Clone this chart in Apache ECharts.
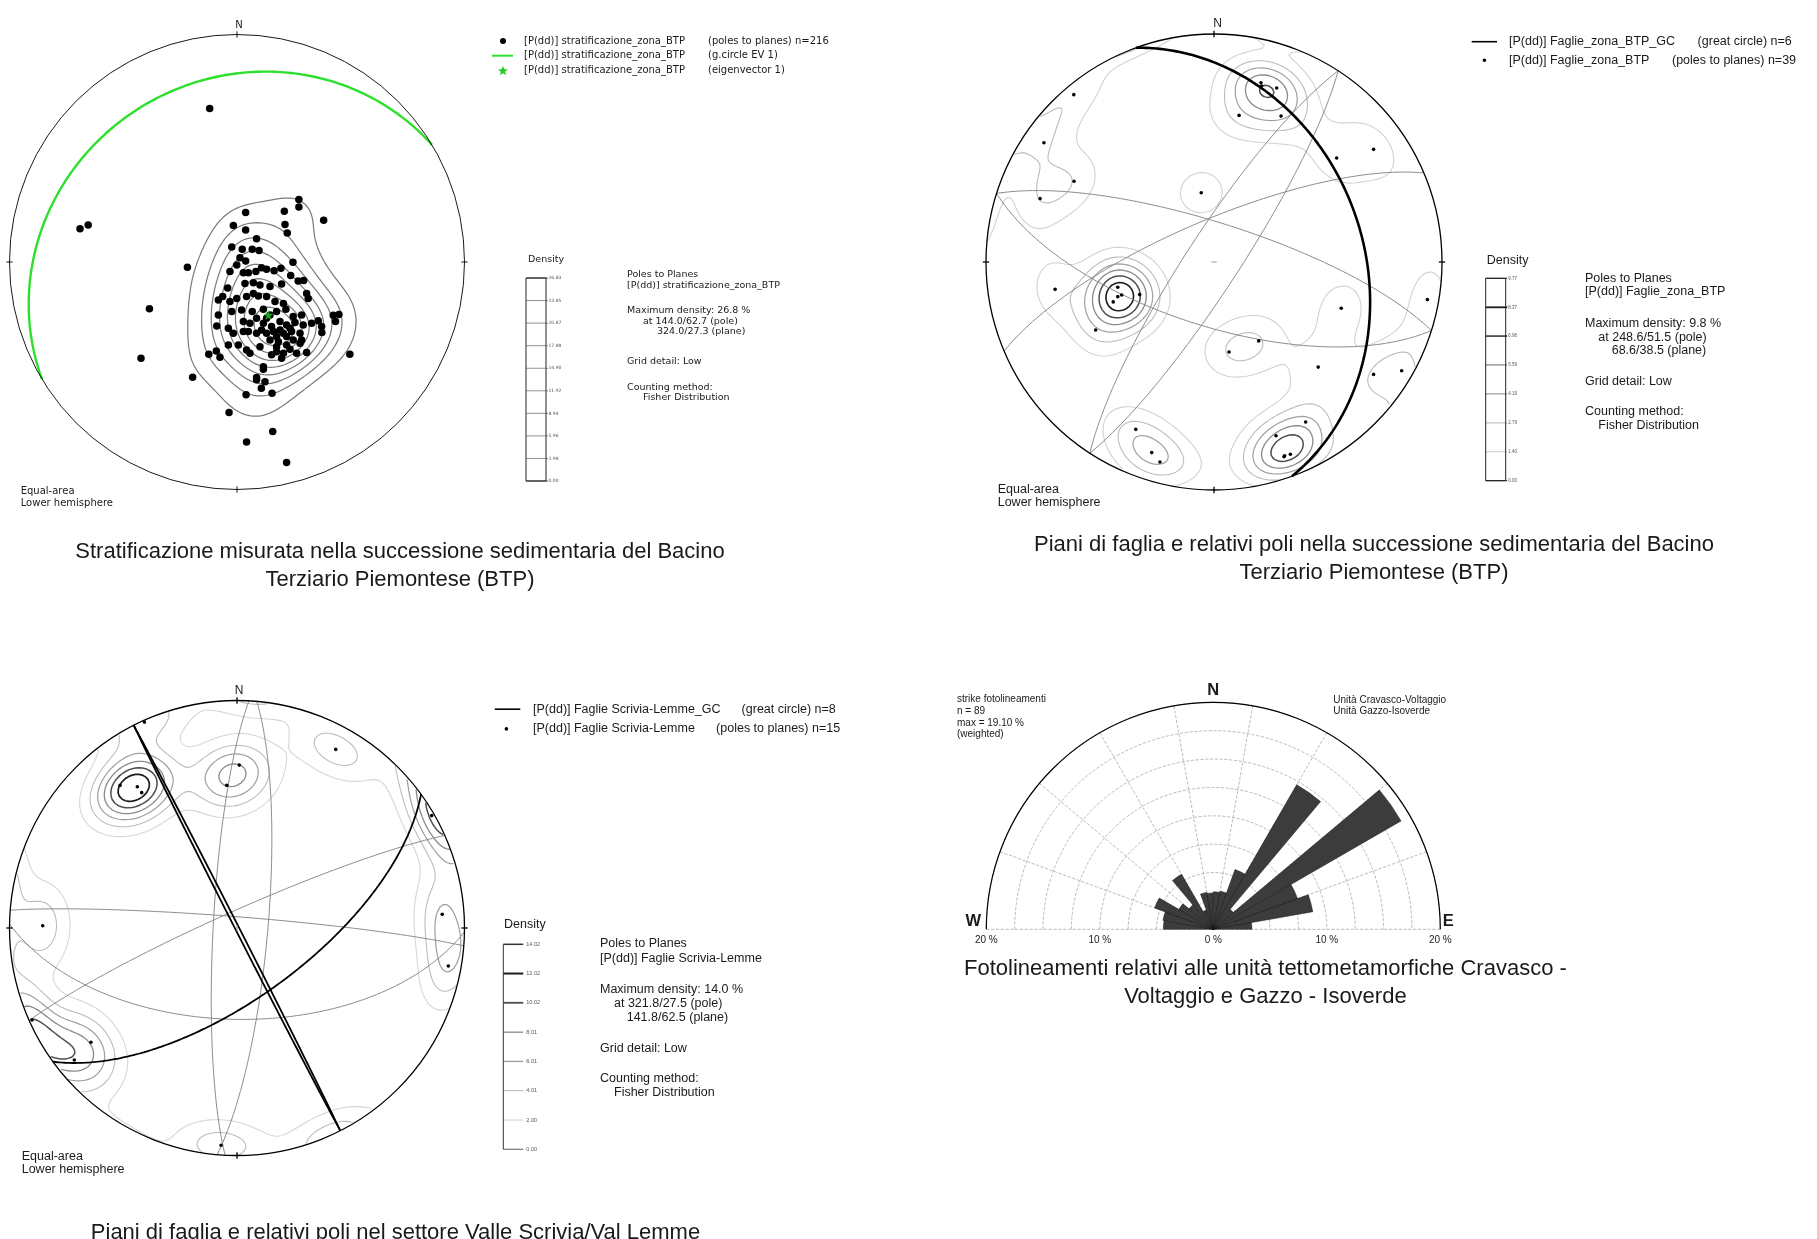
<!DOCTYPE html>
<html><head><meta charset="utf-8"><title>Stereonets</title>
<script src="https://cdn.jsdelivr.net/npm/echarts@6.0.0/dist/echarts.min.js"></script>
<style>html,body{margin:0;padding:0;background:#fff;}#chart{width:1817px;height:1239px;}</style>
</head><body><div id="chart"></div><script>
// ================= DATA =================
// Poles: equal-area projected coordinates (x = East, y = North, primitive radius = 1)
const polesBTP = [
 [-0.12,0.675],[-0.69,0.146],[-0.654,0.163],[0.038,0.218],[0.208,0.223],[0.272,0.275],[0.272,0.242],[0.381,0.184],
 [0.211,0.165],[0.221,0.127],[-0.016,0.16],[0.038,0.141],[-0.218,-0.023],[-0.385,-0.205],[-0.422,-0.423],[-0.195,-0.507],
 [0.496,-0.406],[0.448,-0.231],[0.433,-0.261],[0.423,-0.234],[0.04,-0.584],[0.154,-0.577],[-0.035,-0.662],[0.157,-0.745],
 [0.042,-0.791],[0.218,-0.881],[-0.124,-0.406],[-0.091,-0.391],[-0.075,-0.419],[0.086,-0.518],[0.123,-0.526],[0.107,-0.555],
 [0.116,-0.46],[0.116,-0.471],[0.086,-0.508],
 [0.086,0.102],[-0.023,0.066],[0.023,0.056],[0.067,0.056],[0.097,0.051],[0.013,0.019],[0.038,0.004],[-0.001,-0.013],
 [0.246,-0.001],[-0.031,-0.042],[0.028,-0.047],[0.05,-0.047],[0.083,-0.042],[0.108,-0.025],[0.13,-0.032],[0.163,-0.038],
 [0.193,-0.028],[0.236,-0.059],[0.269,-0.083],[0.293,-0.081],[-0.041,-0.114],[0.035,-0.094],[0.072,-0.091],[0.101,-0.101],
 [0.145,-0.108],[0.196,-0.097],[-0.082,-0.167],[-0.063,-0.152],[-0.031,-0.174],[-0.001,-0.16],[0.042,-0.152],[0.072,-0.138],
 [0.094,-0.149],[0.13,-0.152],[0.167,-0.174],[0.204,-0.182],[0.306,-0.138],[0.313,-0.16],[-0.023,-0.218],[0.02,-0.211],
 [0.067,-0.218],[0.116,-0.208],[0.145,-0.233],[0.174,-0.218],[0.215,-0.208],[0.247,-0.24],[0.284,-0.233],[-0.082,-0.233],
 [-0.089,-0.281],[-0.038,-0.291],[-0.016,-0.313],[0.028,-0.262],[0.05,-0.306],[0.086,-0.313],[0.116,-0.269],[0.152,-0.284],
 [0.189,-0.262],[0.218,-0.277],[0.255,-0.266],[0.291,-0.277],[0.328,-0.269],[0.357,-0.258],[0.372,-0.284],[0.373,-0.31],
 [0.277,-0.313],[0.204,-0.313],[0.174,-0.328],[0.145,-0.343],[0.101,-0.372],[0.042,-0.387],[0.006,-0.365],[-0.038,-0.365],
 [0.057,-0.401],[0.174,-0.372],[0.218,-0.365],[0.262,-0.401],[0.306,-0.398],[0.196,-0.423],[0.204,-0.401],[0.233,-0.384],
 [0.277,-0.357],[0.174,-0.394],[0.218,-0.328],[0.24,-0.306],[0.284,-0.343],[0.108,-0.299],[0.13,-0.313],[0.16,-0.306],
 [0.057,-0.269],[0.086,-0.247],[0.028,-0.306],[0.13,-0.247],[0.189,-0.299],[0.233,-0.291],[0.247,-0.343],[0.152,-0.408],
 [0.182,-0.35]
];
const eigenvectorBTP = [[0.138,-0.233]];
const gcEV1BTP = [[329,21]];                 // [dip direction, dip]
const densityLevelsBTP = [0.00,2.98,5.96,8.94,11.92,14.90,17.88,20.87,23.85,26.83];

const polesFaglieBTP = [
 [-0.615,0.734],[-0.746,0.523],[-0.614,0.354],[-0.763,0.278],[-0.056,0.304],[0.206,0.786],[0.209,0.772],[0.275,0.763],
 [0.11,0.643],[0.294,0.64],[0.538,0.456],[0.7,0.494],[-0.697,-0.12],[-0.422,-0.111],[-0.405,-0.145],[-0.422,-0.152],
 [-0.442,-0.175],[-0.326,-0.143],[-0.519,-0.298],[0.196,-0.346],[0.066,-0.395],[0.558,-0.203],[0.936,-0.165],[0.457,-0.461],
 [0.7,-0.493],[0.823,-0.477],[-0.343,-0.734],[-0.273,-0.836],[-0.237,-0.877],[0.272,-0.762],[0.402,-0.702],[0.307,-0.854],
 [0.335,-0.843],[0.31,-0.85]
];
const gcFaglieBTPBold = [[70,35]];
const gcFaglieBTPThin = [[303,80],[123,81],[17.5,76],[197.5,67],[337,75]];
const densityLevelsFaglieBTP = [0.00,1.40,2.79,4.19,5.59,6.98,8.37,9.77];

const polesScrivia = [
 [-0.407,0.905],[0.434,0.785],[0.01,0.716],[-0.045,0.627],[-0.514,0.627],[-0.438,0.621],[-0.419,0.595],[0.856,0.494],
 [-0.854,0.01],[0.902,0.06],[0.929,-0.167],[-0.901,-0.404],[-0.642,-0.502],[-0.715,-0.58],[-0.07,-0.955]
];
const gcScriviaBold = [[63,89.3],[243,89.3],[144,65]];
const gcScriviaThin = [[273,81.5],[95,79],[4.5,86],[181,57],[336,84]];
const densityLevelsScrivia = [0.00,2.00,4.01,6.01,8.01,10.02,12.02,14.02];

const roseBins = ['270-280','280-290','290-300','300-310','310-320','320-330','330-340','340-350','350-360',
                  '0-10','10-20','20-30','30-40','40-50','50-60','60-70','70-80','80-90'];
const roseValues = [4.4,4.5,5.5,3.5,2.8,5.6,1.8,3.3,3.2, 3.3,3.4,5.6,14.7,2.3,19.1,7.9,8.9,3.4];
const roseScaleTicks = [-20,-10,0,10,20];
const cardinalTicks = [0,90,180,270];

// ================= HELPERS =================
const D2R = Math.PI/180;
function gcPoints(dd, dip){
  const s=(dd-90)*D2R, d=dd*D2R, p=dip*D2R;
  const sv=[Math.sin(s),Math.cos(s),0], dv=[Math.cos(p)*Math.sin(d),Math.cos(p)*Math.cos(d),Math.sin(p)];
  const out=[];
  for(let i=0;i<=180;i++){const f=i*D2R,cf=Math.cos(f),sf=Math.sin(f);
    const E=cf*sv[0]+sf*dv[0], N=cf*sv[1]+sf*dv[1], Dn=sf*dv[2]; const q=Math.sqrt(1+Dn); out.push([E/q,N/q]);}
  return out;
}
function densityGrid(poles,k,N,ext){
  const vecs=poles.map(([x,y])=>{const r2=x*x+y*y;const s=Math.sqrt(Math.max(0,2-r2));return [x*s,y*s,1-r2];});
  const xs=[];for(let i=0;i<N;i++)xs.push(-ext+2*ext*i/(N-1));
  const g=[];let mx=0;
  for(let j=0;j<N;j++){const row=new Float64Array(N);const y=xs[j];
    for(let i=0;i<N;i++){const x=xs[i];const r2=x*x+y*y;if(r2>=2){row[i]=0;continue;}
      const s=Math.sqrt(2-r2),gx=x*s,gy=y*s,gz=1-r2;let sum=0;
      for(const v of vecs){const c=Math.abs(gx*v[0]+gy*v[1]+gz*v[2]);sum+=Math.exp(k*(c-1));}
      row[i]=sum;if(r2<=1&&sum>mx)mx=sum;}
    g.push(row);}
  return {xs,g,mx};
}
function contourLines(G,level){
  const {xs,g}=G;const N=xs.length;const pts=new Map();const segs=[];
  function ip(key,xa,ya,va,xb,yb,vb){if(!pts.has(key)){const t=(level-va)/(vb-va);pts.set(key,[xa+t*(xb-xa),ya+t*(yb-ya)]);}return key;}
  for(let j=0;j<N-1;j++)for(let i=0;i<N-1;i++){
    const v00=g[j][i],v10=g[j][i+1],v11=g[j+1][i+1],v01=g[j+1][i];
    let c=0;if(v00>level)c|=1;if(v10>level)c|=2;if(v11>level)c|=4;if(v01>level)c|=8;
    if(c===0||c===15)continue;
    const x0=xs[i],x1=xs[i+1],y0=xs[j],y1=xs[j+1];
    const B=()=>ip(j*N+i,x0,y0,v00,x1,y0,v10);
    const R=()=>ip(N*N+j*N+i+1,x1,y0,v10,x1,y1,v11);
    const T=()=>ip((j+1)*N+i,x0,y1,v01,x1,y1,v11);
    const L=()=>ip(N*N+j*N+i,x0,y0,v00,x0,y1,v01);
    const ctr=(v00+v10+v11+v01)/4;
    switch(c){
      case 1:case 14:segs.push([L(),B()]);break;
      case 2:case 13:segs.push([B(),R()]);break;
      case 3:case 12:segs.push([L(),R()]);break;
      case 4:case 11:segs.push([R(),T()]);break;
      case 6:case 9:segs.push([B(),T()]);break;
      case 7:case 8:segs.push([L(),T()]);break;
      case 5:if(ctr>level){segs.push([B(),R()]);segs.push([L(),T()]);}else{segs.push([L(),B()]);segs.push([R(),T()]);}break;
      case 10:if(ctr>level){segs.push([L(),B()]);segs.push([R(),T()]);}else{segs.push([B(),R()]);segs.push([L(),T()]);}break;
    }
  }
  const adj=new Map();segs.forEach((s,idx)=>{for(const kk of s){if(!adj.has(kk))adj.set(kk,[]);adj.get(kk).push(idx);}});
  const used=new Uint8Array(segs.length);const lines=[];
  for(let s0=0;s0<segs.length;s0++){if(used[s0])continue;used[s0]=1;
    const fw=[segs[s0][1]],bw=[];let cur=segs[s0][1];
    while(true){const nb=adj.get(cur).find(id=>!used[id]);if(nb===undefined)break;used[nb]=1;const s=segs[nb];cur=s[0]===cur?s[1]:s[0];fw.push(cur);}
    cur=segs[s0][0];bw.push(cur);
    while(true){const nb=adj.get(cur).find(id=>!used[id]);if(nb===undefined)break;used[nb]=1;const s=segs[nb];cur=s[0]===cur?s[1]:s[0];bw.push(cur);}
    const chain=bw.reverse().concat(fw);
    let part=[];
    for(const kk of chain){const p=pts.get(kk);if(p[0]*p[0]+p[1]*p[1]<=1.0)part.push(p);else{if(part.length>1)lines.push(part);part=[];}}
    if(part.length>1)lines.push(part);
  }
  return lines;
}
function makeContours(poles,k,levels,statedMax,colors,widths){
  const G=densityGrid(poles,k,141,1.04);
  return levels.map((L,i)=>({lines:contourLines(G,L*G.mx/statedMax),color:colors[i],width:widths[i]}));
}

// ================= BUILD =================
const FD='DejaVu Sans', FA='Liberation Sans, Arial, sans-serif';
const c1=makeContours(polesBTP,45,densityLevelsBTP.slice(1,-1),26.83,Array(8).fill('#7a7a7a'),Array(8).fill(1.2));
const c2cols=['#d2d2d2','#bcbcbc','#a0a0a0','#8a8a8a','#4e4e4e','#1c1c1c'];
const c3cols=['#d6d6d6','#bdbdbd','#9e9e9e','#8a8a8a','#4e4e4e','#1c1c1c'];
const c2=makeContours(polesFaglieBTP,50,densityLevelsFaglieBTP.slice(1,-1),9.77,c2cols,[1.1,1.1,1.2,1.3,1.5,1.6]);
const c3=makeContours(polesScrivia,45,densityLevelsScrivia.slice(1,-1),14.02,c3cols,[1.1,1.1,1.2,1.3,1.5,1.7]);

function contourSeries(gi,sets){return {type:'custom',xAxisIndex:gi,yAxisIndex:gi,data:[[0,0]],silent:true,z:2,
  renderItem:(p,api)=>{const ch=[];sets.forEach(ls=>ls.lines.forEach(pl=>ch.push({type:'polyline',shape:{points:pl.map(q=>api.coord(q))},style:{stroke:ls.color,lineWidth:ls.width,fill:'none'}})));return {type:'group',children:ch};}};}
function frameSeries(gi,lw,centerMark){return {type:'custom',xAxisIndex:gi,yAxisIndex:gi,data:[[0,0]],silent:true,z:6,
  renderItem:(p,api)=>{const c=api.coord([0,0]);const r=api.coord([1,0])[0]-c[0];
    const ch=[{type:'circle',shape:{cx:c[0],cy:c[1],r:r},style:{fill:'none',stroke:'#000',lineWidth:lw}}];
    cardinalTicks.forEach(a=>{const sa=Math.sin(a*D2R),ca=Math.cos(a*D2R);const p1=api.coord([0.986*sa,0.986*ca]),p2=api.coord([1.014*sa,1.014*ca]);
      ch.push({type:'line',shape:{x1:p1[0],y1:p1[1],x2:p2[0],y2:p2[1]},style:{stroke:'#000',lineWidth:lw}});});
    if(centerMark==='h'){const a=api.coord([-0.012,0]),b=api.coord([0.012,0]);ch.push({type:'line',shape:{x1:a[0],y1:a[1],x2:b[0],y2:b[1]},style:{stroke:'#999',lineWidth:1}});}
    if(centerMark==='v'){const a=api.coord([0,-0.012]),b=api.coord([0,0.012]);ch.push({type:'line',shape:{x1:a[0],y1:a[1],x2:b[0],y2:b[1]},style:{stroke:'#999',lineWidth:1}});}
    return {type:'group',children:ch};}};}
function gcSeries(gi,list,color,width,z){return list.map(([dd,dip])=>({type:'line',xAxisIndex:gi,yAxisIndex:gi,data:gcPoints(dd,dip),
  showSymbol:false,symbol:'none',silent:true,z:z||3,clip:false,lineStyle:{color:color,width:width}}));}
function poleSeries(gi,data,size){return {type:'scatter',xAxisIndex:gi,yAxisIndex:gi,data:data,symbol:'circle',symbolSize:size,silent:true,z:4,itemStyle:{color:'#000',opacity:1}};}
function densityBar(gi,levels,o){return {type:'custom',xAxisIndex:gi,yAxisIndex:gi,data:[[0,0]],silent:true,z:5,
  renderItem:(p,api)=>{const mv=levels[levels.length-1];const tl=api.coord([0,mv]),br=api.coord([1,0]);const ch=[];
    levels.forEach((v,i)=>{const y=api.coord([0,v])[1];
      ch.push({type:'line',shape:{x1:tl[0],y1:y,x2:br[0]+o.ext,y2:y},style:{stroke:o.colors[i],lineWidth:o.widths[i]}});
      ch.push({type:'text',style:{text:v.toFixed(2),x:br[0]+o.gap,y:y,fontSize:o.fs,fontFamily:o.ff,fill:'#555',align:'left',verticalAlign:'middle'}});});
    if(o.box)ch.push({type:'rect',shape:{x:tl[0],y:tl[1],width:br[0]-tl[0],height:br[1]-tl[1]},style:{fill:'none',stroke:'#222',lineWidth:1}});
    else ch.push({type:'line',shape:{x1:tl[0],y1:tl[1],x2:tl[0],y2:br[1]},style:{stroke:'#333',lineWidth:1}});
    return {type:'group',children:ch};}};}

const grids=[
 {left:9.5,top:34.5,width:455,height:455},
 {left:986,top:34,width:456,height:456},
 {left:9.5,top:700.5,width:455,height:455},
 {left:986.3,top:900,width:454,height:29.3},
 {left:526,top:278,width:20,height:203},
 {left:1485.7,top:278.3,width:20,height:202.4},
 {left:503.3,top:944.3,width:20,height:205}
];
const hid={show:false};
const xAxes=[0,1,2].map(i=>({type:'value',gridIndex:i,min:-1,max:1,show:false}));
xAxes.push({type:'value',gridIndex:3,min:roseScaleTicks[0],max:roseScaleTicks[roseScaleTicks.length-1],interval:10,
  axisLine:hid,axisTick:hid,splitLine:hid,axisLabel:{formatter:v=>Math.abs(v)+' %',fontSize:10,fontFamily:FA,color:'#222',margin:6}});
[4,5,6].forEach(i=>xAxes.push({type:'value',gridIndex:i,min:0,max:1,show:false}));
const yAxes=[0,1,2].map(i=>({type:'value',gridIndex:i,min:-1,max:1,show:false}));
yAxes.push({type:'value',gridIndex:3,min:0,max:1,show:false});
yAxes.push({type:'value',gridIndex:4,min:0,max:densityLevelsBTP[densityLevelsBTP.length-1],show:false});
yAxes.push({type:'value',gridIndex:5,min:0,max:densityLevelsFaglieBTP[densityLevelsFaglieBTP.length-1],show:false});
yAxes.push({type:'value',gridIndex:6,min:0,max:densityLevelsScrivia[densityLevelsScrivia.length-1],show:false});

const series=[];
series.push(contourSeries(0,c1),contourSeries(1,c2),contourSeries(2,c3));
series.push(...gcSeries(0,gcEV1BTP,'#2ee02e',2.4));
series.push(...gcSeries(1,gcFaglieBTPThin,'#8a8a8a',1));
series.push(...gcSeries(1,gcFaglieBTPBold,'#000',2.6,3.5));
series.push(...gcSeries(2,gcScriviaThin,'#8a8a8a',1));
series.push(...gcSeries(2,gcScriviaBold,'#000',1.8,3.5));
series.push(poleSeries(0,polesBTP,7.5),poleSeries(1,polesFaglieBTP,3.6),poleSeries(2,polesScrivia,3.6));
series.push({type:'scatter',xAxisIndex:0,yAxisIndex:0,data:eigenvectorBTP,silent:true,z:5,symbolSize:10,
  symbol:'path://M50,0 L61,35 L98,35 L68,57 L79,91 L50,70 L21,91 L32,57 L2,35 L39,35 Z',itemStyle:{color:'#22cc22'}});
series.push(frameSeries(0,0.9,null),frameSeries(1,1.3,'h'),frameSeries(2,1.3,'v'));
series.push(densityBar(4,densityLevelsBTP,{box:true,ext:2,gap:2.5,fs:4.5,ff:FD,colors:['#222','#777','#777','#777','#777','#777','#777','#777','#777','#222'],widths:Array(10).fill(0.8)}));
series.push(densityBar(5,densityLevelsFaglieBTP,{box:true,ext:1.5,gap:2.5,fs:4.5,ff:FA,colors:['#222'].concat(c2cols,['#222']),widths:[1,1.1,1.1,1.3,1.3,1.8,1.8,1]}));
series.push(densityBar(6,densityLevelsScrivia,{box:false,ext:0,gap:3,fs:5.5,ff:FA,colors:['#777'].concat(c3cols,['#333']),widths:[1.2,1.1,1.1,1.3,1.3,1.8,2,1.5]}));
series.push({type:'bar',coordinateSystem:'polar',data:roseValues,barCategoryGap:'0%',silent:true,z:3,
  itemStyle:{color:'#3c3c3c',borderColor:'#111',borderWidth:0.5}});

function T(text,x,y,size,family,extra){return {type:'text',x:x,y:y,silent:true,z:100,
  style:Object.assign({text:text,fontSize:size,fontFamily:family,fill:'#1a1a1a',align:'left',verticalAlign:'middle'},extra||{})};}
const C={align:'center'};
function starPts(cx,cy,R,r){const a=[];for(let i=0;i<10;i++){const ang=-Math.PI/2+i*Math.PI/5;const rr=i%2?r:R;a.push([cx+rr*Math.cos(ang),cy+rr*Math.sin(ang)]);}return a;}
const g=[
 // panel 1
 T('N',239,25,10,FD,C),
 {type:'circle',shape:{cx:503,cy:41,r:3},style:{fill:'#000'},silent:true},
 {type:'line',shape:{x1:492,y1:55.7,x2:513,y2:55.7},style:{stroke:'#2ee02e',lineWidth:2},silent:true},
 {type:'polygon',shape:{points:starPts(503,71,5.2,2.2)},style:{fill:'#22cc22'},silent:true},
 T('[P(dd)] stratificazione_zona_BTP',524,41,10,FD),T('[P(dd)] stratificazione_zona_BTP',524,55.7,10,FD),T('[P(dd)] stratificazione_zona_BTP',524,70.7,10,FD),
 T('(poles to planes) n=216',708,41,10,FD),T('(g.circle EV 1)',708,55.7,10,FD),T('(eigenvector 1)',708,70.7,10,FD),
 T('Density',528,260,9.5,FD),
 T('Poles to Planes',627,275,9.5,FD),T('[P(dd)] stratificazione_zona_BTP',627,285.5,9.5,FD),
 T('Maximum density: 26.8 %',627,311,9.5,FD),T('at 144.0/62.7 (pole)',643,321.5,9.5,FD),T('324.0/27.3 (plane)',657,332,9.5,FD),
 T('Grid detail: Low',627,362,9.5,FD),T('Counting method:',627,387.5,9.5,FD),T('Fisher Distribution',643,398,9.5,FD),
 T('Equal-area',20.7,491.7,10,FD),T('Lower hemisphere',20.7,503.7,10,FD),
 // panel 2
 T('N',1217.7,24,12,FA,C),
 {type:'line',shape:{x1:1471.7,y1:41.7,x2:1497,y2:41.7},style:{stroke:'#000',lineWidth:1.6},silent:true},
 {type:'circle',shape:{cx:1484.4,cy:60.3,r:1.8},style:{fill:'#000'},silent:true},
 T('[P(dd)] Faglie_zona_BTP_GC',1509,41.7,12.5,FA),T('[P(dd)] Faglie_zona_BTP',1509,60.3,12.5,FA),
 T('(great circle) n=6',1697.6,41.7,12.5,FA),T('(poles to planes) n=39',1672,60.3,12.5,FA),
 T('Density',1486.7,260.7,12.5,FA),
 T('Poles to Planes',1585,278.3,12.5,FA),T('[P(dd)] Faglie_zona_BTP',1585,291.7,12.5,FA),
 T('Maximum density: 9.8 %',1585,323.3,12.5,FA),T('at 248.6/51.5 (pole)',1598.3,337.3,12.5,FA),T('68.6/38.5 (plane)',1611.7,351,12.5,FA),
 T('Grid detail: Low',1585,381.7,12.5,FA),T('Counting method:',1585,411.7,12.5,FA),T('Fisher Distribution',1598.3,425.7,12.5,FA),
 T('Equal-area',997.7,490,12.5,FA),T('Lower hemisphere',997.7,502.3,12.5,FA),
 // panel 3
 T('N',239,691,12,FA,C),
 {type:'line',shape:{x1:494.8,y1:709.2,x2:520.3,y2:709.2},style:{stroke:'#000',lineWidth:1.6},silent:true},
 {type:'circle',shape:{cx:506.4,cy:728.9,r:1.8},style:{fill:'#000'},silent:true},
 T('[P(dd)] Faglie Scrivia-Lemme_GC',533,709.2,12.5,FA),T('[P(dd)] Faglie Scrivia-Lemme',533,728.9,12.5,FA),
 T('(great circle) n=8',741.6,709.2,12.5,FA),T('(poles to planes) n=15',716.1,728.9,12.5,FA),
 T('Density',504,925,12.5,FA),
 T('Poles to Planes',600,944,12.5,FA),T('[P(dd)] Faglie Scrivia-Lemme',600,958.3,12.5,FA),
 T('Maximum density: 14.0 %',600,989.3,12.5,FA),T('at 321.8/27.5 (pole)',614,1003.3,12.5,FA),T('141.8/62.5 (plane)',626.7,1017.7,12.5,FA),
 T('Grid detail: Low',600,1048.3,12.5,FA),T('Counting method:',600,1078.3,12.5,FA),T('Fisher Distribution',614,1092.7,12.5,FA),
 T('Equal-area',21.7,1156.7,12.5,FA),T('Lower hemisphere',21.7,1169.3,12.5,FA),
 // rose
 T('N',1213.3,690.7,16.5,FA,{align:'center',fontWeight:'bold'}),
 T('W',973.3,921.7,16.5,FA,{align:'center',fontWeight:'bold'}),
 T('E',1448.3,921.7,16.5,FA,{align:'center',fontWeight:'bold'}),
 T('strike fotolineamenti',957,699.3,10,FA),T('n = 89',957,711.7,10,FA),T('max = 19.10 %',957,723.3,10,FA),T('(weighted)',957,734,10,FA),
 T('Unità Cravasco-Voltaggio',1333.3,700,10,FA),T('Unità Gazzo-Isoverde',1333.3,711.7,10,FA),
 // captions
 T('Stratificazione misurata nella successione sedimentaria del Bacino',400,552,22,FA,C),
 T('Terziario Piemontese (BTP)',400,580,22,FA,C),
 T('Piani di faglia e relativi poli nella successione sedimentaria del Bacino',1374,545,22,FA,C),
 T('Terziario Piemontese (BTP)',1374,573,22,FA,C),
 T('Piani di faglia e relativi poli nel settore Valle Scrivia/Val Lemme',395.5,1233,22,FA,C),
 T('Fotolineamenti relativi alle unità tettometamorfiche Cravasco -',1265.4,969,22,FA,C),
 T('Voltaggio e Gazzo - Isoverde',1265.4,996.5,22,FA,C)
];

const option={
  animation:false,backgroundColor:'#fff',textStyle:{fontFamily:FA},
  grid:grids,xAxis:xAxes,yAxis:yAxes,
  polar:{center:[1213.3,929.3],radius:227},
  angleAxis:{type:'category',data:roseBins,startAngle:180,endAngle:0,clockwise:true,boundaryGap:true,
    axisLine:{show:true,lineStyle:{color:'#000',width:1.2}},axisTick:hid,axisLabel:hid,
    splitLine:{show:true,lineStyle:{color:'#aaa',type:'dashed',width:0.8}}},
  radiusAxis:{type:'value',min:0,max:20,interval:2.5,axisLine:hid,axisTick:hid,axisLabel:hid,
    splitLine:{show:true,lineStyle:{color:'#aaa',type:'dashed',width:0.8}}},
  series:series,graphic:g
};
const chart=echarts.init(document.getElementById('chart'),null,{renderer:'canvas'});
chart.setOption(option);
</script></body></html>
